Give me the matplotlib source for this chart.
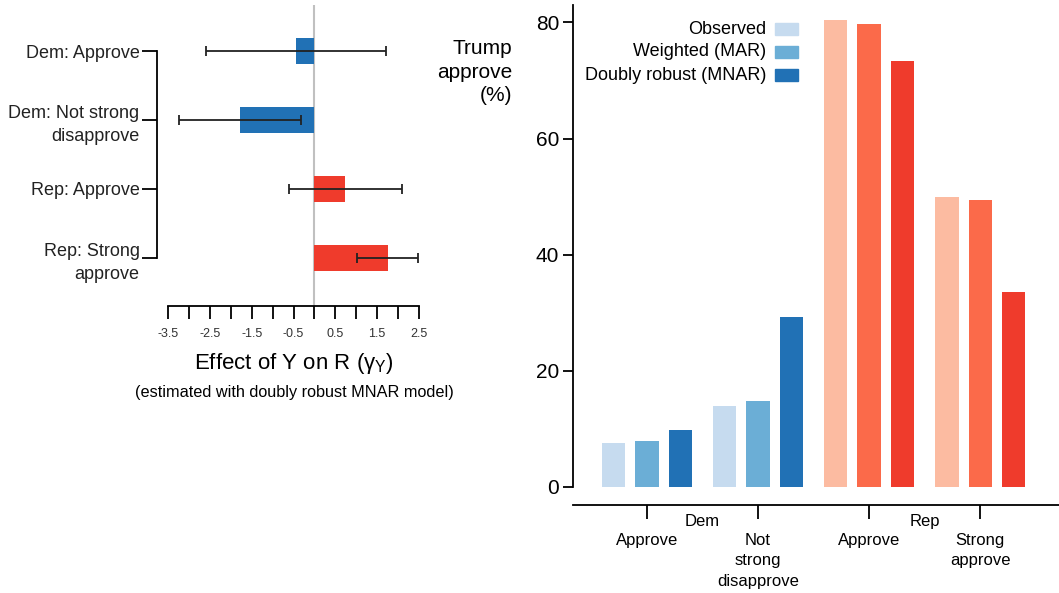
import numpy as np
import matplotlib.pyplot as plt
from matplotlib.patches import Rectangle

plt.rcParams['font.family'] = ['Liberation Sans', 'DejaVu Sans']

# left panel: effect of Y on R
rows = ["Dem: Approve", "Dem: Not strong\ndisapprove", "Rep: Approve", "Rep: Strong\napprove"]
gamma = [-0.44, -1.78, 0.74, 1.75]
gamma_err = [2.14, 1.46, 1.35, 0.73]
row_colors = ["#2171b5", "#2171b5", "#ef3b2c", "#ef3b2c"]

# right panel: Trump approve (%)
groups = ["Approve", "Not\nstrong\ndisapprove", "Approve", "Strong\napprove"]
parties = ["Dem", "Rep"]
methods = ["Observed", "Weighted (MAR)", "Doubly robust (MNAR)"]
observed = [7.6, 14.0, 80.4, 49.9]
weighted = [7.9, 14.8, 79.8, 49.5]
doubly = [9.8, 29.3, 73.3, 33.6]
blues = ["#c6dbef", "#6baed6", "#2171b5"]
reds = ["#fcbba1", "#fb6a4a", "#ef3b2c"]

W, H = 1059, 593
fig = plt.figure(figsize=(W / 100, H / 100), dpi=100)

# ---- left panel
ax1 = fig.add_axes([168 / W, 1 - 306 / H, 251 / W, 301 / H])
y = np.arange(len(rows))
ax1.axvline(0, color="#c0c0c0", lw=1.5, zorder=1)
ax1.barh(y, gamma, height=0.38, color=row_colors, zorder=2)
ax1.errorbar(gamma, y, xerr=gamma_err, fmt="none", ecolor="#222222",
             elinewidth=1.3, capsize=3.5, capthick=1.3, zorder=3, clip_on=False)
ax1.set_xlim(-3.5, 2.5)
ax1.set_ylim(3.696, -0.667)
xt = np.arange(-3.5, 2.51, 0.5)
ax1.set_xticks(xt)
ax1.set_xticklabels([("%g" % v) if i % 2 == 0 else "" for i, v in enumerate(xt)])
ax1.tick_params(axis="x", length=9.5, width=1.3, pad=6, labelsize=9, labelcolor="#333333")
ax1.set_yticks(y)
ax1.set_yticklabels(rows)
ax1.tick_params(axis="y", length=11, width=1.3, pad=1.5, labelsize=13, labelcolor="#222222")
ax1.spines[["top", "right"]].set_visible(False)
ax1.spines["left"].set_position(("outward", 8))
ax1.spines["left"].set_bounds(0, 3)
for s in ["left", "bottom"]:
    ax1.spines[s].set_linewidth(1.3)
ax1.set_xlabel("Effect of Y on R (γ$_\\mathregular{Y}$)", fontsize=16, labelpad=8)
fig.text(294 / W, 1 - 393 / H, "(estimated with doubly robust MNAR model)",
         ha="center", va="center", fontsize=11.7)

# ---- right panel
ax2 = fig.add_axes([573 / W, 1 - 487 / H, 486 / W, 482 / H])
x = np.arange(len(groups))
for k, (vals, off) in enumerate(zip([observed, weighted, doubly], [-0.3, 0, 0.3])):
    cols = [blues[k]] * 2 + [reds[k]] * 2
    ax2.bar(x + off, vals, width=0.21, color=cols)
ax2.set_xlim(-0.667, 3.71)
ax2.set_ylim(0, 83)
ax2.set_yticks([0, 20, 40, 60, 80])
ax2.tick_params(axis="y", labelsize=15, length=7, width=1.3, pad=3)
ax2.set_xticks(x)
ax2.set_xticklabels(groups)
ax2.tick_params(axis="x", length=10, width=1.3, pad=10, labelsize=12)
ax2.spines[["top", "right"]].set_visible(False)
ax2.spines["bottom"].set_position(("outward", 13))
for s in ["left", "bottom"]:
    ax2.spines[s].set_linewidth(1.3)
for i, p in enumerate(parties):
    ax2.annotate(p, xy=(2 * i + 0.5, 0), xycoords=("data", "axes fraction"),
                 xytext=(0, -25), textcoords="offset points",
                 ha="center", va="center", fontsize=12)

fig.text(512 / W, 1 - 72 / H, "Trump\napprove\n(%)", ha="right", va="center",
         fontsize=15, linespacing=1.3)

# legend, text right-aligned with swatch on the right
for k, (m, c) in enumerate(zip(methods, blues)):
    yy = 1 - (29 + 23 * k) / H
    fig.text(766 / W, yy, m, ha="right", va="center", fontsize=13)
    fig.patches.append(Rectangle((775 / W, yy - 6 / H), 23 / W, 12 / H,
                                 transform=fig.transFigure, color=c))

# wider line spacing in multi-line tick labels (set after ticks exist)
fig.canvas.draw()
for lab in ax1.get_yticklabels() + ax2.get_xticklabels():
    lab.set_linespacing(1.45)

fig.savefig("out.png", dpi=100)
